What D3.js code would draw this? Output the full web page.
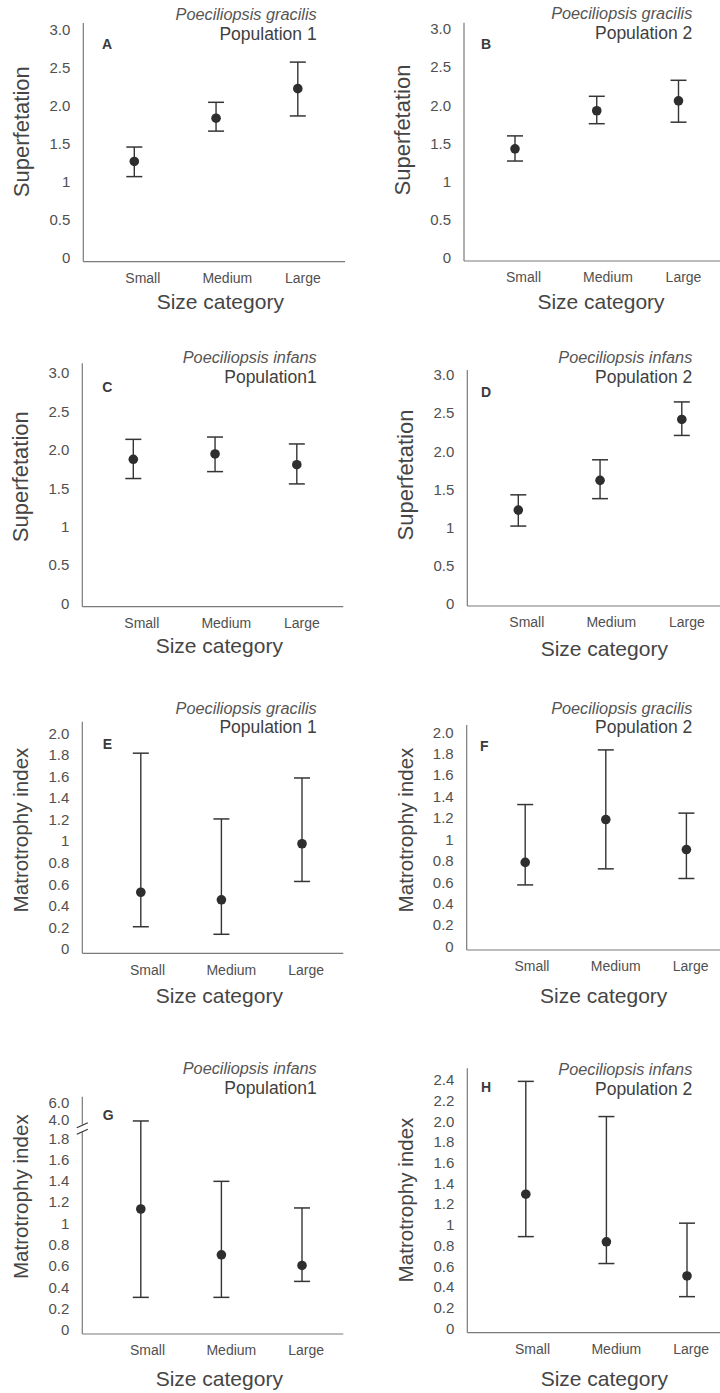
<!DOCTYPE html>
<html>
<head>
<meta charset="utf-8">
<script src="https://cdn.jsdelivr.net/npm/d3@7/dist/d3.min.js"></script>
<style>
  html, body { margin: 0; padding: 0; background: #fff; }
  svg { display: block; }
  text { font-family: "Liberation Sans", Arial, Helvetica, sans-serif; }
</style>
</head>
<body>
<svg id="chart" width="720" height="1393"></svg>
<script>
// ---------------- DATA ----------------
const categories = ["Small", "Medium", "Large"];
const panelLetters = ["A", "B", "C", "D", "E", "F", "G", "H"];
const species = ["Poeciliopsis gracilis", "Poeciliopsis gracilis", "Poeciliopsis infans", "Poeciliopsis infans",
                 "Poeciliopsis gracilis", "Poeciliopsis gracilis", "Poeciliopsis infans", "Poeciliopsis infans"];
const populations = ["Population 1", "Population 2", "Population1", "Population 2",
                     "Population 1", "Population 2", "Population1", "Population 2"];
const yTitles = ["Superfetation", "Superfetation", "Superfetation", "Superfetation",
                 "Matrotrophy index", "Matrotrophy index", "Matrotrophy index", "Matrotrophy index"];
const xTitle = "Size category";

// mean, lower and upper limits of the error bars (Small, Medium, Large)
const means  = [[1.26, 1.83, 2.22], [1.42, 1.92, 2.05], [1.87, 1.94, 1.80], [1.22, 1.61, 2.41],
                [0.52, 0.45, 0.97], [0.78, 1.18, 0.90], [1.13, 0.70, 0.60], [1.29, 0.83, 0.50]];
const lowers = [[1.06, 1.66, 1.86], [1.26, 1.75, 1.77], [1.62, 1.71, 1.55], [1.01, 1.37, 2.20],
                [0.20, 0.13, 0.62], [0.57, 0.72, 0.63], [0.30, 0.30, 0.45], [0.88, 0.62, 0.30]];
const uppers = [[1.45, 2.04, 2.57], [1.59, 2.11, 2.32], [2.13, 2.16, 2.07], [1.42, 1.88, 2.64],
                [1.81, 1.20, 1.58], [1.32, 1.83, 1.24], [3.80, 1.39, 1.14], [2.38, 2.04, 1.01]];

// y axis domains (G has a broken axis: 0..1.8 then 4.0, 6.0)
const yDomains = [[0, 3], [0, 3], [0, 3], [0, 3], [0, 2], [0, 2], [0, 1.8, 4, 6], [0, 2.4]];

const superTicks = [0, 0.5, 1, 1.5, 2, 2.5, 3];
const superTickLabels = ["0", "0.5", "1", "1.5", "2.0", "2.5", "3.0"];
const matroTicks2 = [0, 0.2, 0.4, 0.6, 0.8, 1, 1.2, 1.4, 1.6, 1.8, 2];
const matroTickLabels2 = ["0", "0.2", "0.4", "0.6", "0.8", "1", "1.2", "1.4", "1.6", "1.8", "2.0"];
const matroTicksG = [0, 0.2, 0.4, 0.6, 0.8, 1, 1.2, 1.4, 1.6, 1.8, 4, 6];
const matroTickLabelsG = ["0", "0.2", "0.4", "0.6", "0.8", "1", "1.2", "1.4", "1.6", "1.8", "4.0", "6.0"];
const matroTicksH = [0, 0.2, 0.4, 0.6, 0.8, 1, 1.2, 1.4, 1.6, 1.8, 2, 2.2, 2.4];
const matroTickLabelsH = ["0", "0.2", "0.4", "0.6", "0.8", "1", "1.2", "1.4", "1.6", "1.8", "2.0", "2.2", "2.4"];

const tickSets = [
  [superTicks, superTickLabels], [superTicks, superTickLabels],
  [superTicks, superTickLabels], [superTicks, superTickLabels],
  [matroTicks2, matroTickLabels2], [matroTicks2, matroTickLabels2],
  [matroTicksG, matroTickLabelsG], [matroTicksH, matroTickLabelsH]
];

// ---------------- LAYOUT ----------------
// ax: y-axis x; top/bottom: axis line extent; yr: pixel range of the y domain
const layout = [
  {ax: 83.3,  top: 23,     bottom: 261.7,  right: 345,   yr: [257, 29.5],   row: 0, titleY: 14,     letter: [107, 44],      yTitleY: 131.7, xTitleY: 301.7},
  {ax: 464,   top: 22.7,   bottom: 261,    right: 726,   yr: [257, 28.5],   row: 0, titleY: 13.3,   letter: [486, 44],      yTitleY: 130,   xTitleY: 301.7},
  {ax: 82.3,  top: 363.3,  bottom: 606.7,  right: 343.3, yr: [603, 372.5],  row: 0, titleY: 357.3,  letter: [107.3, 386.7], yTitleY: 476.7, xTitleY: 645},
  {ax: 467.3, top: 370,    bottom: 606,    right: 726,   yr: [603, 374.5],  row: 0, titleY: 357.3,  letter: [486, 391.7],   yTitleY: 475,   xTitleY: 648.3},
  {ax: 82.3,  top: 721.7,  bottom: 953.3,  right: 343.3, yr: [948.3, 732.7], row: 1, titleY: 707.7, letter: [107.3, 744],   yTitleY: 830,   xTitleY: 995},
  {ax: 466.7, top: 725,    bottom: 950,    right: 726,   yr: [946, 731.7],  row: 1, titleY: 707.7,  letter: [484.3, 746],   yTitleY: 830,   xTitleY: 995},
  {ax: 82.3,  top: 1096.7, bottom: 1334,   right: 343.3, yr: [1329.3, 1137.7, 1119.3, 1101.7], row: 1, titleY: 1068.3, letter: [108.3, 1115], yTitleY: 1196.7, xTitleY: 1378.3},
  {ax: 467.3, top: 1068.3, bottom: 1332.7, right: 726,   yr: [1327.7, 1079.3], row: 1, titleY: 1069.3, letter: [486, 1086.7], yTitleY: 1200,  xTitleY: 1378.3}
];
const ptOffsets  = [[51, 214.5], [58.5, 219.7]];
const lblOffsets = [[59, 219], [64.7, 223.4]];
const titleRight = [316.7, 692.3];

const axisColor = "#7a7a7a";
const markColor = "#353535";
const textColor = "#454545";
const tickColor = "#505050";

const svg = d3.select("#chart");

layout.forEach((L, i) => {
  const g = svg.append("g");
  const col = i % 2;

  const y = d3.scaleLinear().domain(yDomains[i]).range(L.yr);
  const x = d3.scalePoint().domain(categories)
    .range([L.ax + ptOffsets[L.row][0], L.ax + ptOffsets[L.row][1]]);
  const xl = d3.scalePoint().domain(categories)
    .range([L.ax + lblOffsets[L.row][0], L.ax + lblOffsets[L.row][1]]);

  // y tick labels
  const [tv, tl] = tickSets[i];
  const yAxis = g.append("g")
    .attr("transform", `translate(${L.ax},0)`)
    .call(d3.axisLeft(y).tickValues(tv).tickFormat((d, k) => tl[k]).tickSize(0).tickPadding(13));
  yAxis.select(".domain").remove();
  yAxis.selectAll("text")
    .attr("font-size", 15).attr("fill", tickColor)
    .attr("font-family", "'Liberation Sans', Arial, sans-serif")
    .attr("dy", "0.36em");

  // x tick labels
  const xAxis = g.append("g")
    .attr("transform", `translate(0,${L.bottom})`)
    .call(d3.axisBottom(xl).tickSize(0));
  xAxis.select(".domain").remove();
  xAxis.selectAll("text")
    .attr("font-size", 14).attr("fill", tickColor)
    .attr("font-family", "'Liberation Sans', Arial, sans-serif")
    .attr("y", 16.3).attr("dy", "0.36em")
    .attr("dx", d => d === "Medium" ? 4.5 : 0);

  // axis lines
  if (yDomains[i].length > 2) {
    // broken axis (panel G)
    const yb = (y(1.8) + y(4)) / 2;
    g.append("line").attr("x1", L.ax).attr("x2", L.ax).attr("y1", L.top).attr("y2", yb - 4)
      .attr("stroke", axisColor).attr("stroke-width", 1.2);
    g.append("line").attr("x1", L.ax).attr("x2", L.ax).attr("y1", yb + 3).attr("y2", L.bottom)
      .attr("stroke", axisColor).attr("stroke-width", 1.2);
    [-3.3, 3.3].forEach(o => {
      g.append("line")
        .attr("x1", L.ax - 5.5).attr("y1", yb + o + 2.5)
        .attr("x2", L.ax + 5.5).attr("y2", yb + o - 2.5)
        .attr("stroke", markColor).attr("stroke-width", 1.2);
    });
  } else {
    g.append("line").attr("x1", L.ax).attr("x2", L.ax).attr("y1", L.top).attr("y2", L.bottom)
      .attr("stroke", axisColor).attr("stroke-width", 1.2);
  }
  g.append("line").attr("x1", L.ax).attr("x2", L.right).attr("y1", L.bottom).attr("y2", L.bottom)
    .attr("stroke", axisColor).attr("stroke-width", 1.2);

  // error bars
  const rows = categories.map((c, k) => ({c, m: means[i][k], lo: lowers[i][k], hi: uppers[i][k]}));
  const eb = g.append("g");
  eb.selectAll("line.v").data(rows).join("line").attr("class", "v")
    .attr("x1", d => x(d.c)).attr("x2", d => x(d.c))
    .attr("y1", d => y(d.lo)).attr("y2", d => y(d.hi))
    .attr("stroke", markColor).attr("stroke-width", 1.4);
  ["lo", "hi"].forEach(key => {
    eb.selectAll("line.cap-" + key).data(rows).join("line").attr("class", "cap-" + key)
      .attr("x1", d => x(d.c) - 8).attr("x2", d => x(d.c) + 8)
      .attr("y1", d => y(d[key])).attr("y2", d => y(d[key]))
      .attr("stroke", markColor).attr("stroke-width", 1.5);
  });
  eb.selectAll("circle").data(rows).join("circle")
    .attr("cx", d => x(d.c)).attr("cy", d => y(d.m)).attr("r", 4.8)
    .attr("fill", "#2e2e2e");

  // titles
  g.append("text").attr("x", titleRight[col]).attr("y", L.titleY)
    .attr("text-anchor", "end").attr("dominant-baseline", "central")
    .attr("font-size", 16.3).attr("font-style", "italic").attr("fill", "#555")
    .text(species[i]);
  g.append("text").attr("x", titleRight[col]).attr("y", L.titleY + 19.5)
    .attr("text-anchor", "end").attr("dominant-baseline", "central")
    .attr("font-size", 17.5).attr("fill", "#404040")
    .text(populations[i]);

  // panel letter
  g.append("text").attr("x", L.letter[0]).attr("y", L.letter[1])
    .attr("text-anchor", "middle").attr("dominant-baseline", "central")
    .attr("font-size", 14).attr("font-weight", "bold").attr("fill", "#3a3a3a")
    .text(panelLetters[i]);

  // axis titles
  g.append("text")
    .attr("transform", `translate(${L.ax - 61.5},${L.yTitleY}) rotate(-90)`)
    .attr("text-anchor", "middle").attr("dominant-baseline", "central")
    .attr("font-size", L.row === 0 ? 22 : 20.6).attr("fill", textColor)
    .text(yTitles[i]);
  g.append("text").attr("x", L.ax + 137).attr("y", L.xTitleY)
    .attr("text-anchor", "middle").attr("dominant-baseline", "central")
    .attr("font-size", 21).attr("fill", textColor)
    .text(xTitle);
});
</script>
</body>
</html>
